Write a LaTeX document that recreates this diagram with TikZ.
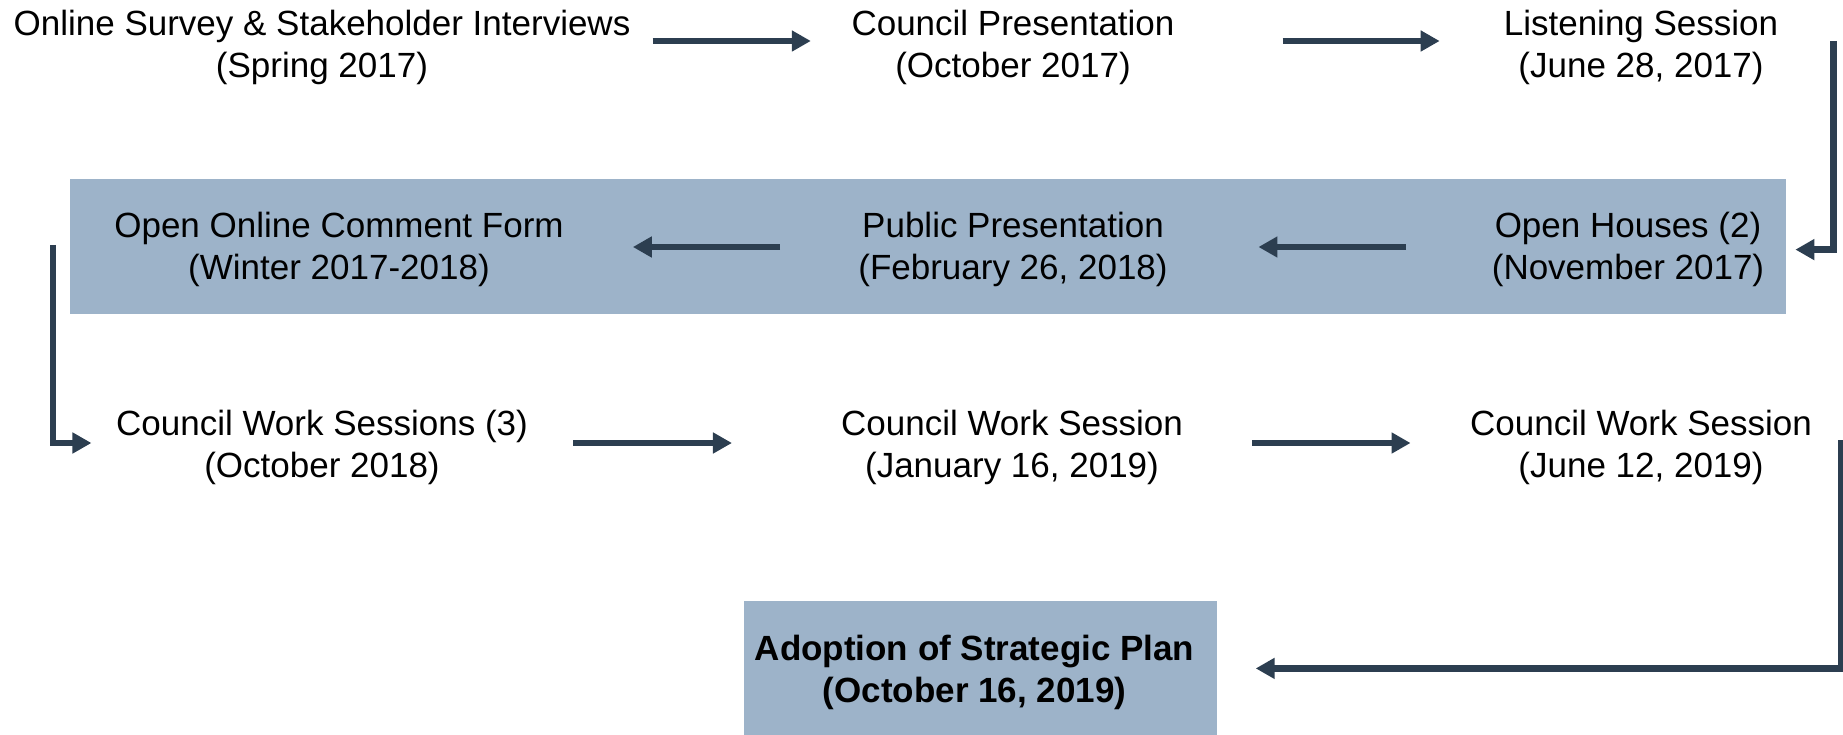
\documentclass[tikz,border=0pt]{standalone}
\usepackage{fontspec}
\setmainfont{Liberation Sans}
\usetikzlibrary{arrows.meta}
\definecolor{arrowc}{HTML}{2C3E50}
\definecolor{bandc}{HTML}{9DB3C9}
\begin{document}
\begin{tikzpicture}[x=1pt,y=-1pt,
  txt/.style={inner sep=0pt, align=center, font=\fontsize{35}{42}\selectfont},
  boxst/.style={fill=bandc, inner sep=0pt, align=center, minimum width=473pt, minimum height=134pt, font=\bfseries\fontsize{35}{42}\selectfont},
  arr/.style={draw=arrowc, line width=6.5pt, -{Triangle[length=19pt,width=20pt]}}]
\useasboundingbox (0,0) rectangle (1843,735);
% background band
\fill[bandc] (70,179) rectangle (1786,314);
% row 1
\node[txt] (n1) at (322,48.6) {\strut Online Survey \& Stakeholder Interviews\\\strut (Spring 2017)};
\node[txt] (n2) at (1013,48.6) {\strut Council Presentation\\\strut (October 2017)};
\node[txt] (n3) at (1641,48.6) {\strut Listening Session\\\strut (June 28, 2017)};
% row 2
\node[txt] (n4) at (1628,249.6) {\strut Open Houses (2)\\\strut (November 2017)};
\node[txt] (n5) at (1013,249.6) {\strut Public Presentation\\\strut (February 26, 2018)};
\node[txt] (n6) at (339,249.6) {\strut Open Online Comment Form\\\strut (Winter 2017-2018)};
% row 3
\node[txt] (n7) at (322,447.6) {\strut Council Work Sessions (3)\\\strut (October 2018)};
\node[txt] (n8) at (1012,447.6) {\strut Council Work Session\\\strut (January 16, 2019)};
\node[txt] (n9) at (1641,447.6) {\strut Council Work Session\\\strut (June 12, 2019)};
% final box
\node[boxst] (n10) at (980,668.4) {\rule{0pt}{39pt}Adoption of Strategic Plan\hspace*{11pt}\\\strut (October 16, 2019)\hspace*{11pt}};
% connectors
\draw[arr] ([shift={(22,-7.6)}]n1.east) -- ([shift={(-40.5,-7.6)}]n2.west);
\draw[arr] ([shift={(108,-7.6)}]n2.east) -- ([shift={(-64,-7.6)}]n3.west);
\draw[arr] ([shift={(55,-7.6)}]n3.east) |- ([xshift=31pt]n4.east);
\draw[arr] ([shift={(-85.4,-2.6)}]n4.west) -- ([shift={(90.6,-2.6)}]n5.east);
\draw[arr] ([shift={(-78,-2.6)}]n5.west) -- ([shift={(69,-2.6)}]n6.east);
\draw[arr] ([shift={(-61,-4.6)}]n6.west) |- ([shift={(-24.5,-4.6)}]n7.west);
\draw[arr] ([shift={(45.4,-4.6)}]n7.east) -- ([shift={(-109,-4.6)}]n8.west);
\draw[arr] ([shift={(69,-4.6)}]n8.east) -- ([shift={(-59.4,-4.6)}]n9.west);
\draw[arr] ([shift={(29,-7.6)}]n9.east) |- ([xshift=39pt]n10.east);
\end{tikzpicture}
\end{document}
